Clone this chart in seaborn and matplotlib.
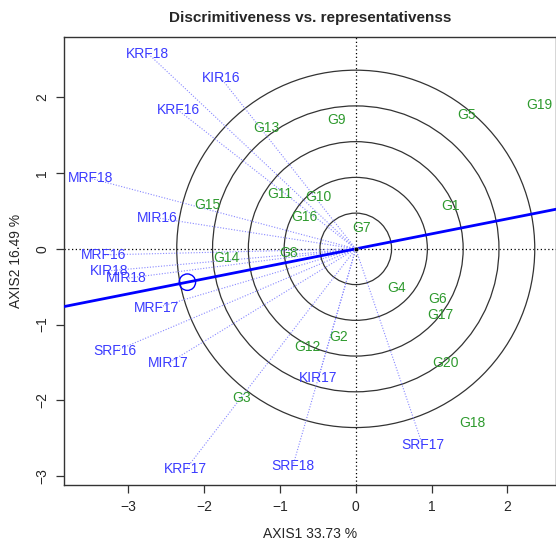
import numpy as np
import pandas as pd
import seaborn as sns
import matplotlib.pyplot as plt
from matplotlib.patches import Circle

# environment scores (blue)
env_names = ["KRF18", "KIR16", "KRF16", "MRF18", "MIR16", "MRF16", "KIR18", "MIR18",
             "MRF17", "SRF16", "MIR17", "KRF17", "SRF18", "KIR17", "SRF17"]
env_x = [-2.74, -1.78, -2.34, -3.49, -2.62, -3.33, -3.25, -3.03,
         -2.63, -3.17, -2.47, -2.24, -0.83, -0.49, 0.88]
env_y = [2.58, 2.26, 1.83, 0.93, 0.41, -0.08, -0.29, -0.39,
         -0.78, -1.35, -1.51, -2.91, -2.87, -1.70, -2.59]

# genotype scores (green)
gen_names = ["G19", "G5", "G9", "G13", "G11", "G10", "G1", "G15", "G16", "G7",
             "G8", "G14", "G4", "G6", "G17", "G2", "G12", "G20", "G3", "G18"]
gen_x = [2.42, 1.46, -0.26, -1.18, -1.00, -0.49, 1.25, -1.95, -0.68, 0.07,
         -0.88, -1.70, 0.54, 1.08, 1.12, -0.22, -0.64, 1.18, -1.51, 1.54]
gen_y = [1.90, 1.77, 1.70, 1.59, 0.72, 0.69, 0.56, 0.58, 0.42, 0.27,
         -0.05, -0.12, -0.52, -0.66, -0.88, -1.16, -1.29, -1.51, -1.97, -2.30]

# average environment
avg_env = (-2.22, -0.44)
ring_radii = [0.472, 0.944, 1.416, 1.888, 2.36]

env_df = pd.DataFrame({"name": env_names, "x": env_x, "y": env_y})
gen_df = pd.DataFrame({"name": gen_names, "x": gen_x, "y": gen_y})

sns.set_style("ticks")
plt.rcParams['font.family'] = ['Liberation Sans', 'DejaVu Sans']

fig = plt.figure(figsize=(5.56, 5.42), dpi=100)
ax = fig.add_axes([0.116, 0.105, 0.884, 0.827])

blue = "#3b3bff"
green = "#2e9a2e"

# reference lines through origin
ax.axhline(0, color="black", lw=0.9, ls=(0, (1, 2)), zorder=1)
ax.axvline(0, color="black", lw=0.9, ls=(0, (1, 2)), zorder=1)

# concentric circles
for r in ring_radii:
    ax.add_patch(Circle((0, 0), r, fill=False, ec="#333333", lw=0.9, zorder=2))

# environment vectors
for _, row in env_df.iterrows():
    ax.plot([0, row.x], [0, row.y], color="#8888ff", lw=0.8, ls=(0, (1, 1.5)), zorder=2)

# average environment axis
ax.axline((0, 0), avg_env, color="blue", lw=2, zorder=3)
sns.scatterplot(x=[avg_env[0]], y=[avg_env[1]], ax=ax, s=140, marker="o",
                facecolor="none", edgecolor="blue", linewidth=1, zorder=4)
sns.scatterplot(x=[0], y=[0], ax=ax, s=10, color="black", zorder=4)

for _, row in env_df.iterrows():
    ax.text(row.x, row.y, row["name"], color=blue, fontsize=10, ha="center", va="center", zorder=5)
for _, row in gen_df.iterrows():
    ax.text(row.x, row.y, row["name"], color=green, fontsize=10, ha="center", va="center", zorder=5)

ax.set_xlim(-3.84, 2.64)
ax.set_ylim(-3.12, 2.80)
ax.set_xticks([-3, -2, -1, 0, 1, 2])
ax.set_yticks([-3, -2, -1, 0, 1, 2])
ax.set_yticklabels(["\u22123", "\u22122", "\u22121", "0", "1", "2"], rotation=90, va="center")
ax.set_xticklabels(["\u22123", "\u22122", "\u22121", "0", "1", "2"])
ax.tick_params(labelsize=10, length=6, width=0.9, color="#333333", pad=5)
for sp in ax.spines.values():
    sp.set_color("#333333")
    sp.set_linewidth(1)

ax.set_xlabel("AXIS1 33.73 %", fontsize=10, labelpad=9)
ax.set_ylabel("AXIS2 16.49 %", fontsize=10, labelpad=9)
ax.set_title("Discrimitiveness vs. representativenss", fontsize=11, fontweight="bold", pad=11)

fig.savefig("out.png", dpi=100)
